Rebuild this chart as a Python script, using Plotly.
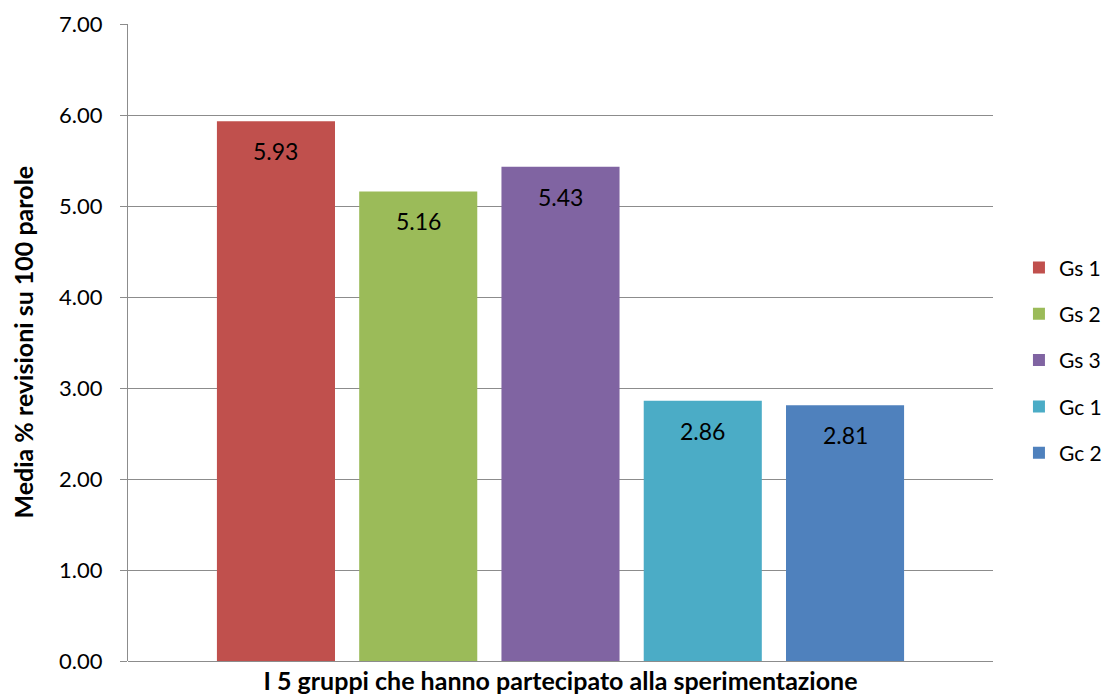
import plotly.graph_objects as go

groups = ["Gs 1", "Gs 2", "Gs 3", "Gc 1", "Gc 2"]
values = [5.93, 5.16, 5.43, 2.86, 2.81]
colors = ["#C0504D", "#9BBB59", "#8064A2", "#4BACC6", "#4F81BD"]
y_ticks = [0, 1, 2, 3, 4, 5, 6, 7]

y_title = "Media % revisioni su 100 parole"
x_title = "I 5 gruppi che hanno partecipato alla sperimentazione"

FONT = "Lato"
GRID = "#8C8C8C"

fig = go.Figure()
for i, (g, v, c) in enumerate(zip(groups, values, colors)):
    fig.add_trace(go.Bar(
        x=[g], y=[v], name=g, marker=dict(color=c, line=dict(width=0)),
        width=0.83, legendgroup=g, hoverinfo="skip",
    ))
    fig.add_annotation(
        x=g, y=v, text=f"{v:.2f}", showarrow=False, yshift=-30,
        font=dict(family=FONT, size=23, color="#000000"),
    )

# vertical axis title
fig.add_annotation(
    xref="paper", yref="paper", x=-0.1225, y=0.5,
    xanchor="center", yanchor="middle", textangle=-90,
    text=f"<b>{y_title}</b>", showarrow=False,
    font=dict(family=FONT, size=25, color="#000000"),
)

fig.update_layout(
    width=1104, height=695,
    margin=dict(l=128, r=111, t=24, b=34, autoexpand=False),
    barmode="overlay",
    plot_bgcolor="white", paper_bgcolor="white",
    font=dict(family=FONT, size=22, color="#000000"),
    legend=dict(
        x=1.030, y=0.472, xanchor="left", yanchor="middle",
        font=dict(family=FONT, size=21),
        tracegroupgap=16, itemwidth=30,
    ),
    xaxis=dict(
        type="category", categoryorder="array", categoryarray=groups,
        range=[-1.04, 5.04], showticklabels=False, ticks="",
        showline=False, showgrid=False, zeroline=False,
        title=dict(text=x_title, standoff=14,
                   font=dict(family=FONT, size=25, color="#000000", weight="bold")),
        fixedrange=True,
    ),
    yaxis=dict(
        range=[0, 7], tickvals=y_ticks, tickformat=".2f",
        showgrid=True, gridcolor=GRID, gridwidth=1,
        showline=True, linecolor=GRID, linewidth=1,
        ticks="outside", ticklen=7, tickcolor=GRID,
        ticklabelstandoff=13,
        zeroline=True, zerolinecolor=GRID, zerolinewidth=1,
        tickfont=dict(family=FONT, size=22),
        fixedrange=True,
    ),
    showlegend=True,
)

fig.write_html("out.html")
